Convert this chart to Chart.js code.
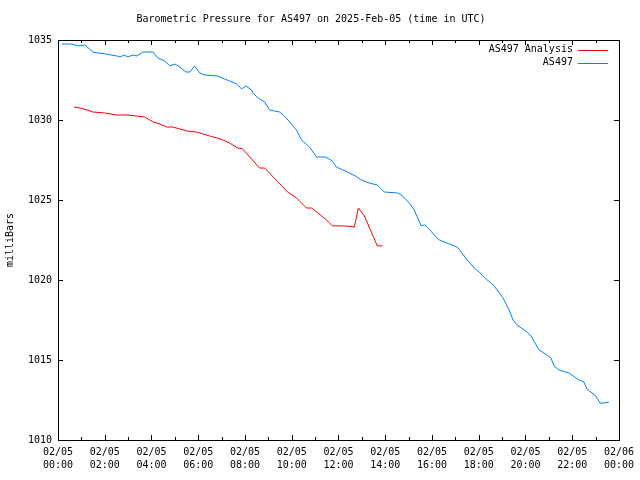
<!DOCTYPE html>
<html>
<head>
<meta charset="utf-8">
<script src="https://cdn.jsdelivr.net/npm/chart.js@4.4.1/dist/chart.umd.min.js"></script>
<style>
  html, body { margin: 0; padding: 0; background: #fff; }
  #wrap { width: 640px; height: 480px; }
</style>
</head>
<body>
<div id="wrap"><canvas id="pressureChart" width="640" height="480"></canvas></div>
<script>
// 气压数据 (hours since 02/05 00:00 UTC)
const seriesNames = ['AS497 Analysis', 'AS497'];
const seriesColors = ['#ff0000', '#0080ff'];

const analysisHours = [0.68, 0.94, 1.24, 1.49, 2.0, 2.52, 2.99, 3.71, 4.06, 4.36, 4.65, 4.91, 5.21, 5.51, 5.94, 6.19, 6.49, 6.79, 7.05, 7.34, 7.69, 7.9, 8.62, 8.84, 9.82, 10.2, 10.63, 10.85, 11.49, 11.74, 12.25, 12.68, 12.85, 13.11, 13.66, 13.88];
const analysisValues = [1030.81, 1030.75, 1030.63, 1030.5, 1030.44, 1030.31, 1030.31, 1030.19, 1029.88, 1029.75, 1029.56, 1029.56, 1029.44, 1029.31, 1029.25, 1029.13, 1029.0, 1028.88, 1028.75, 1028.56, 1028.25, 1028.19, 1027.0, 1027.0, 1025.5, 1025.13, 1024.5, 1024.5, 1023.75, 1023.38, 1023.38, 1023.31, 1024.5, 1024.0, 1022.13, 1022.13];

const obsHours = [0.17, 0.6, 0.85, 1.15, 1.49, 1.71, 2.01, 2.52, 2.65, 2.82, 2.99, 3.2, 3.37, 3.63, 4.06, 4.27, 4.57, 4.78, 5.0, 5.21, 5.47, 5.64, 5.85, 6.06, 6.28, 6.83, 7.13, 7.34, 7.64, 7.86, 8.03, 8.28, 8.33, 8.62, 8.84, 9.05, 9.27, 9.48, 9.69, 9.91, 10.2, 10.42, 10.76, 11.06, 11.44, 11.74, 11.91, 12.38, 12.72, 12.98, 13.32, 13.66, 13.83, 13.96, 14.52, 14.69, 15.03, 15.24, 15.37, 15.54, 15.67, 15.8, 16.1, 16.31, 16.74, 17.08, 17.25, 17.51, 17.81, 18.02, 18.32, 18.66, 19.04, 19.3, 19.47, 19.64, 20.07, 20.24, 20.58, 20.92, 21.09, 21.22, 21.43, 21.86, 22.29, 22.5, 22.63, 23.01, 23.19, 23.36, 23.57];
const obsValues = [1034.75, 1034.75, 1034.63, 1034.69, 1034.25, 1034.19, 1034.13, 1034.0, 1033.94, 1034.06, 1033.94, 1034.06, 1034.0, 1034.25, 1034.25, 1033.88, 1033.69, 1033.38, 1033.5, 1033.31, 1033.0, 1033.0, 1033.38, 1032.94, 1032.81, 1032.75, 1032.56, 1032.44, 1032.25, 1031.94, 1032.13, 1031.88, 1031.69, 1031.31, 1031.13, 1030.63, 1030.56, 1030.5, 1030.25, 1029.88, 1029.38, 1028.75, 1028.31, 1027.69, 1027.69, 1027.44, 1027.06, 1026.75, 1026.5, 1026.25, 1026.06, 1025.94, 1025.69, 1025.5, 1025.44, 1025.31, 1024.81, 1024.38, 1023.94, 1023.38, 1023.44, 1023.31, 1022.81, 1022.5, 1022.25, 1022.06, 1021.75, 1021.25, 1020.75, 1020.5, 1020.06, 1019.63, 1018.88, 1018.13, 1017.5, 1017.19, 1016.75, 1016.5, 1015.63, 1015.31, 1015.13, 1014.63, 1014.38, 1014.19, 1013.75, 1013.63, 1013.19, 1012.75, 1012.31, 1012.31, 1012.38];

// x 轴刻度标签 (每两小时)
const tickDates = ['02/05', '02/05', '02/05', '02/05', '02/05', '02/05', '02/05', '02/05', '02/05', '02/05', '02/05', '02/05', '02/06'];
const tickTimes = ['00:00', '02:00', '04:00', '06:00', '08:00', '10:00', '12:00', '14:00', '16:00', '18:00', '20:00', '22:00', '00:00'];

const FONT = 'DejaVu Sans Mono, Liberation Mono, monospace';

const toPoints = (xs, ys) => xs.map((x, i) => ({ x: x, y: ys[i] }));

// gnuplot 风格边框 + 向内刻度
const frameTicks = {
    id: 'frameTicks',
    afterDatasetsDraw(chart) {
        const { ctx, chartArea: a, scales } = chart;
        ctx.save();
        ctx.strokeStyle = '#000';
        ctx.lineWidth = 1;
        ctx.beginPath();
        for (let h = 0; h <= 24; h++) {
            const px = Math.round(scales.x.getPixelForValue(h)) + 0.5;
            const len = h % 2 === 0 ? 5 : 3;
            ctx.moveTo(px, a.bottom); ctx.lineTo(px, a.bottom - len);
            ctx.moveTo(px, a.top); ctx.lineTo(px, a.top + len);
        }
        for (let v = 1010; v <= 1035; v += 5) {
            const py = Math.round(scales.y.getPixelForValue(v)) + 0.5;
            ctx.moveTo(a.left, py); ctx.lineTo(a.left + 5, py);
            ctx.moveTo(a.right, py); ctx.lineTo(a.right - 5, py);
        }
        ctx.stroke();
        ctx.strokeRect(Math.round(a.left) + 0.5, Math.round(a.top) + 0.5,
            Math.round(a.right - a.left), Math.round(a.bottom - a.top));

        // 图例 (右上角)
        ctx.font = '10px ' + FONT;
        ctx.textAlign = 'right';
        ctx.textBaseline = 'middle';
        chart.data.datasets.forEach((ds, i) => {
            const y = a.top + 9.5 + i * 13;
            ctx.fillStyle = '#000';
            ctx.fillText(ds.label, a.right - 46, y);
            ctx.strokeStyle = ds.borderColor;
            ctx.beginPath();
            ctx.moveTo(a.right - 41, Math.round(y) + 0.5);
            ctx.lineTo(a.right - 11, Math.round(y) + 0.5);
            ctx.stroke();
        });
        ctx.restore();
    }
};

new Chart(document.getElementById('pressureChart'), {
    type: 'line',
    data: {
        datasets: [
            {
                label: seriesNames[0],
                data: toPoints(analysisHours, analysisValues),
                borderColor: seriesColors[0],
                borderWidth: 1,
                pointRadius: 0,
                tension: 0
            },
            {
                label: seriesNames[1],
                data: toPoints(obsHours, obsValues),
                borderColor: seriesColors[1],
                borderWidth: 1,
                pointRadius: 0,
                tension: 0
            }
        ]
    },
    options: {
        responsive: false,
        animation: false,
        events: [],
        layout: { padding: { left: 0, right: 18, top: 0, bottom: 0 } },
        plugins: {
            legend: { display: false },
            tooltip: { enabled: false },
            title: {
                display: true,
                text: 'Barometric Pressure for AS497 on 2025-Feb-05 (time in UTC)',
                color: '#000',
                font: { family: FONT, size: 10, weight: 'normal', lineHeight: 1.2 },
                padding: { top: 13, bottom: 15 }
            }
        },
        scales: {
            x: {
                type: 'linear',
                min: 0,
                max: 24,
                grid: { display: false, drawTicks: false },
                border: { display: false },
                afterFit: (s) => { s.height = 40; },
                ticks: {
                    stepSize: 2,
                    autoSkip: false,
                    maxRotation: 0,
                    padding: 6,
                    color: '#000',
                    font: { family: FONT, size: 10, lineHeight: 1.3 },
                    callback: (v) => {
                        const i = Math.round(v / 2);
                        return [tickDates[i], tickTimes[i]];
                    }
                }
            },
            y: {
                min: 1010,
                max: 1035,
                grid: { display: false, drawTicks: false },
                border: { display: false },
                afterFit: (s) => { s.width = 58; },
                ticks: {
                    stepSize: 5,
                    padding: 6,
                    color: '#000',
                    font: { family: FONT, size: 10 },
                    callback: (v) => String(v)
                },
                title: {
                    display: true,
                    text: 'milliBars',
                    color: '#000',
                    font: { family: FONT, size: 10, lineHeight: 1.2 },
                    padding: { top: 4, bottom: 0 }
                }
            }
        }
    },
    plugins: [frameTicks]
});
</script>
</body>
</html>
